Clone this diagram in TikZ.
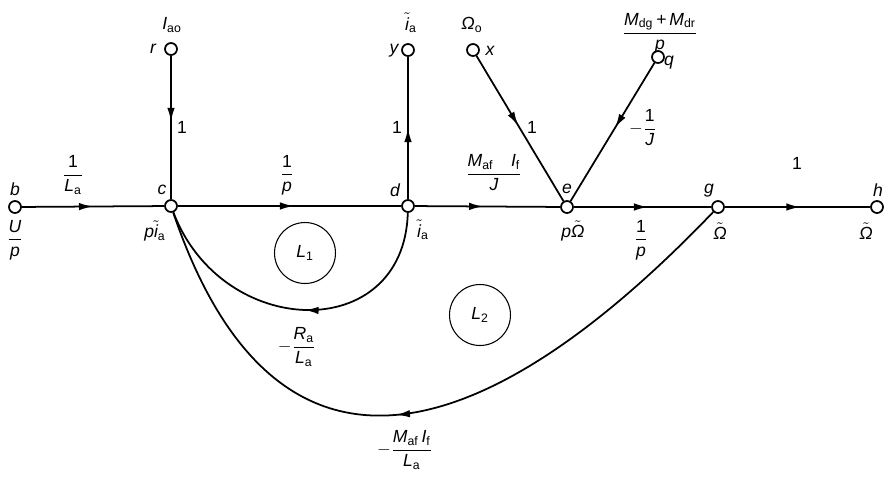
\documentclass[tikz,border=0pt]{standalone}
\usepackage{amsmath}
\usepackage{fontspec}
\setmainfont{Liberation Sans}
\usetikzlibrary{arrows.meta,decorations.markings}
\newcommand{\sbs}[1]{\textsubscript{\upshape #1}}
\newcommand{\tl}[1]{$\tilde{\text{\itshape #1}}$}
\newcommand{\gfrac}[2]{$\dfrac{\text{\itshape #1}}{\text{\itshape #2}}$}
\tikzset{
  sgnode/.style={circle, draw=black, line width=1pt, fill=white, minimum size=2.4mm, inner sep=0pt},
  branch/.style={draw=black, line width=1pt, postaction={decorate},
    decoration={markings, mark=at position #1 with {\arrow{Latex[length=2.8mm,width=1.5mm]}}}},
  branch/.default=0.5,
  tag/.style={font=\fontsize{10}{12}\selectfont\itshape, inner sep=1pt},
  loopMark/.style={circle, draw=black, line width=0.6pt, minimum size=12.2mm, inner sep=0pt, font=\fontsize{10}{12}\selectfont\itshape}
}

\begin{document}
\begin{tikzpicture}[x=0.02cm,y=-0.02cm]
\useasboundingbox (0,0) rectangle (894,481);

% signal nodes
\node[sgnode] (b) at (15,207) {};
\node[sgnode] (c) at (171,206) {};
\node[sgnode] (d) at (408,206) {};
\node[sgnode] (e) at (567,207) {};
\node[sgnode] (g) at (718,207) {};
\node[sgnode] (h) at (877,207) {};
\node[sgnode] (r) at (171,49) {};
\node[sgnode] (y) at (408,50) {};
\node[sgnode] (x) at (473,50) {};
\node[sgnode] (q) at (658,57) {};

% names and signals
\node[tag] (bName) at (15,189) {b};
\node[tag] (bSig) at (15,240) {\gfrac{U}{p}};
\node[tag] (cName) at (162,190) {c};
\node[tag] (cSig) at (155,231) {p\tl{i}\sbs{a}};
\node[tag] (rName) at (153,49) {r};
\node[tag] (rSig) at (172,25) {I\sbs{ao}};
\node[tag] (dName) at (395,190) {d};
\node[tag] (dSig) at (423,230) {\tl{i}\sbs{a}};
\node[tag] (yName) at (394,51) {y};
\node[tag] (ySig) at (411,23) {\tl{i}\sbs{a}};
\node[tag] (xName) at (490,51) {x};
\node[tag] (xSig) at (472,25) {Ω\sbs{o}};
\node[tag] (eName) at (567,189) {e};
\node[tag] (eSig) at (573,231) {p\tl{Ω}};
\node[tag] (qName) at (669,63) {q};
\node[tag] (qSig) at (660,33) {\gfrac{M\sbs{dg}\,+\,M\sbs{dr}}{p}};
\node[tag] (gName) at (709,191) {g};
\node[tag] (gSig) at (720,231) {\tl{Ω}};
\node[tag] (hName) at (878,190) {h};
\node[tag] (hSig) at (866,231) {\tl{Ω}};

% branches
\draw[branch] (b) -- (c);
\draw[branch=0.52] (c) -- (d);
\draw[branch=0.47] (d) -- (e);
\draw[branch=0.54] (e) -- (g);
\draw[branch=0.52] (g) -- (h);
\draw[branch=0.46] (r) -- (c);
\draw[branch] (d) -- (y);
\draw[branch=0.48] (x) -- (e);
\draw[branch=0.47] (q) -- (e);
\draw[branch=0.48] (d) .. controls (404,345) and (222,340) .. (c);
\draw[branch=0.54] (g) .. controls (492,443) and (278,521) .. (c);

% gains
\node[tag] (gainBC) at (73,175) {\gfrac{\upshape 1}{L\sbs{a}}};
\node[tag] (gainCD) at (287,175) {\gfrac{\upshape 1}{p}};
\node[tag] (gainDE) at (494,173) {\gfrac{M\sbs{af}\quad I\sbs{f}}{J}};
\node[tag] (gainEG) at (641,240) {\gfrac{\upshape 1}{p}};
\node[tag] (gainGH) at (797,163) {\upshape 1};
\node[tag] (gainRC) at (182,127) {\upshape 1};
\node[tag] (gainDY) at (397,127) {\upshape 1};
\node[tag] (gainXE) at (532,127) {\upshape 1};
\node[tag] (gainQE) at (643,128) {$-$\gfrac{\upshape 1}{J}};
\node[tag] (gainDC) at (297,347) {$-$\gfrac{R\sbs{a}}{L\sbs{a}}};
\node[tag] (gainGC) at (405,450) {$-$\gfrac{M\sbs{af}\,I\sbs{f}}{L\sbs{a}}};

% loops
\node[loopMark] (loopA) at (305,253) {L\sbs{1}};
\node[loopMark] (loopB) at (480,315) {L\sbs{2}};

\end{tikzpicture}
\end{document}
